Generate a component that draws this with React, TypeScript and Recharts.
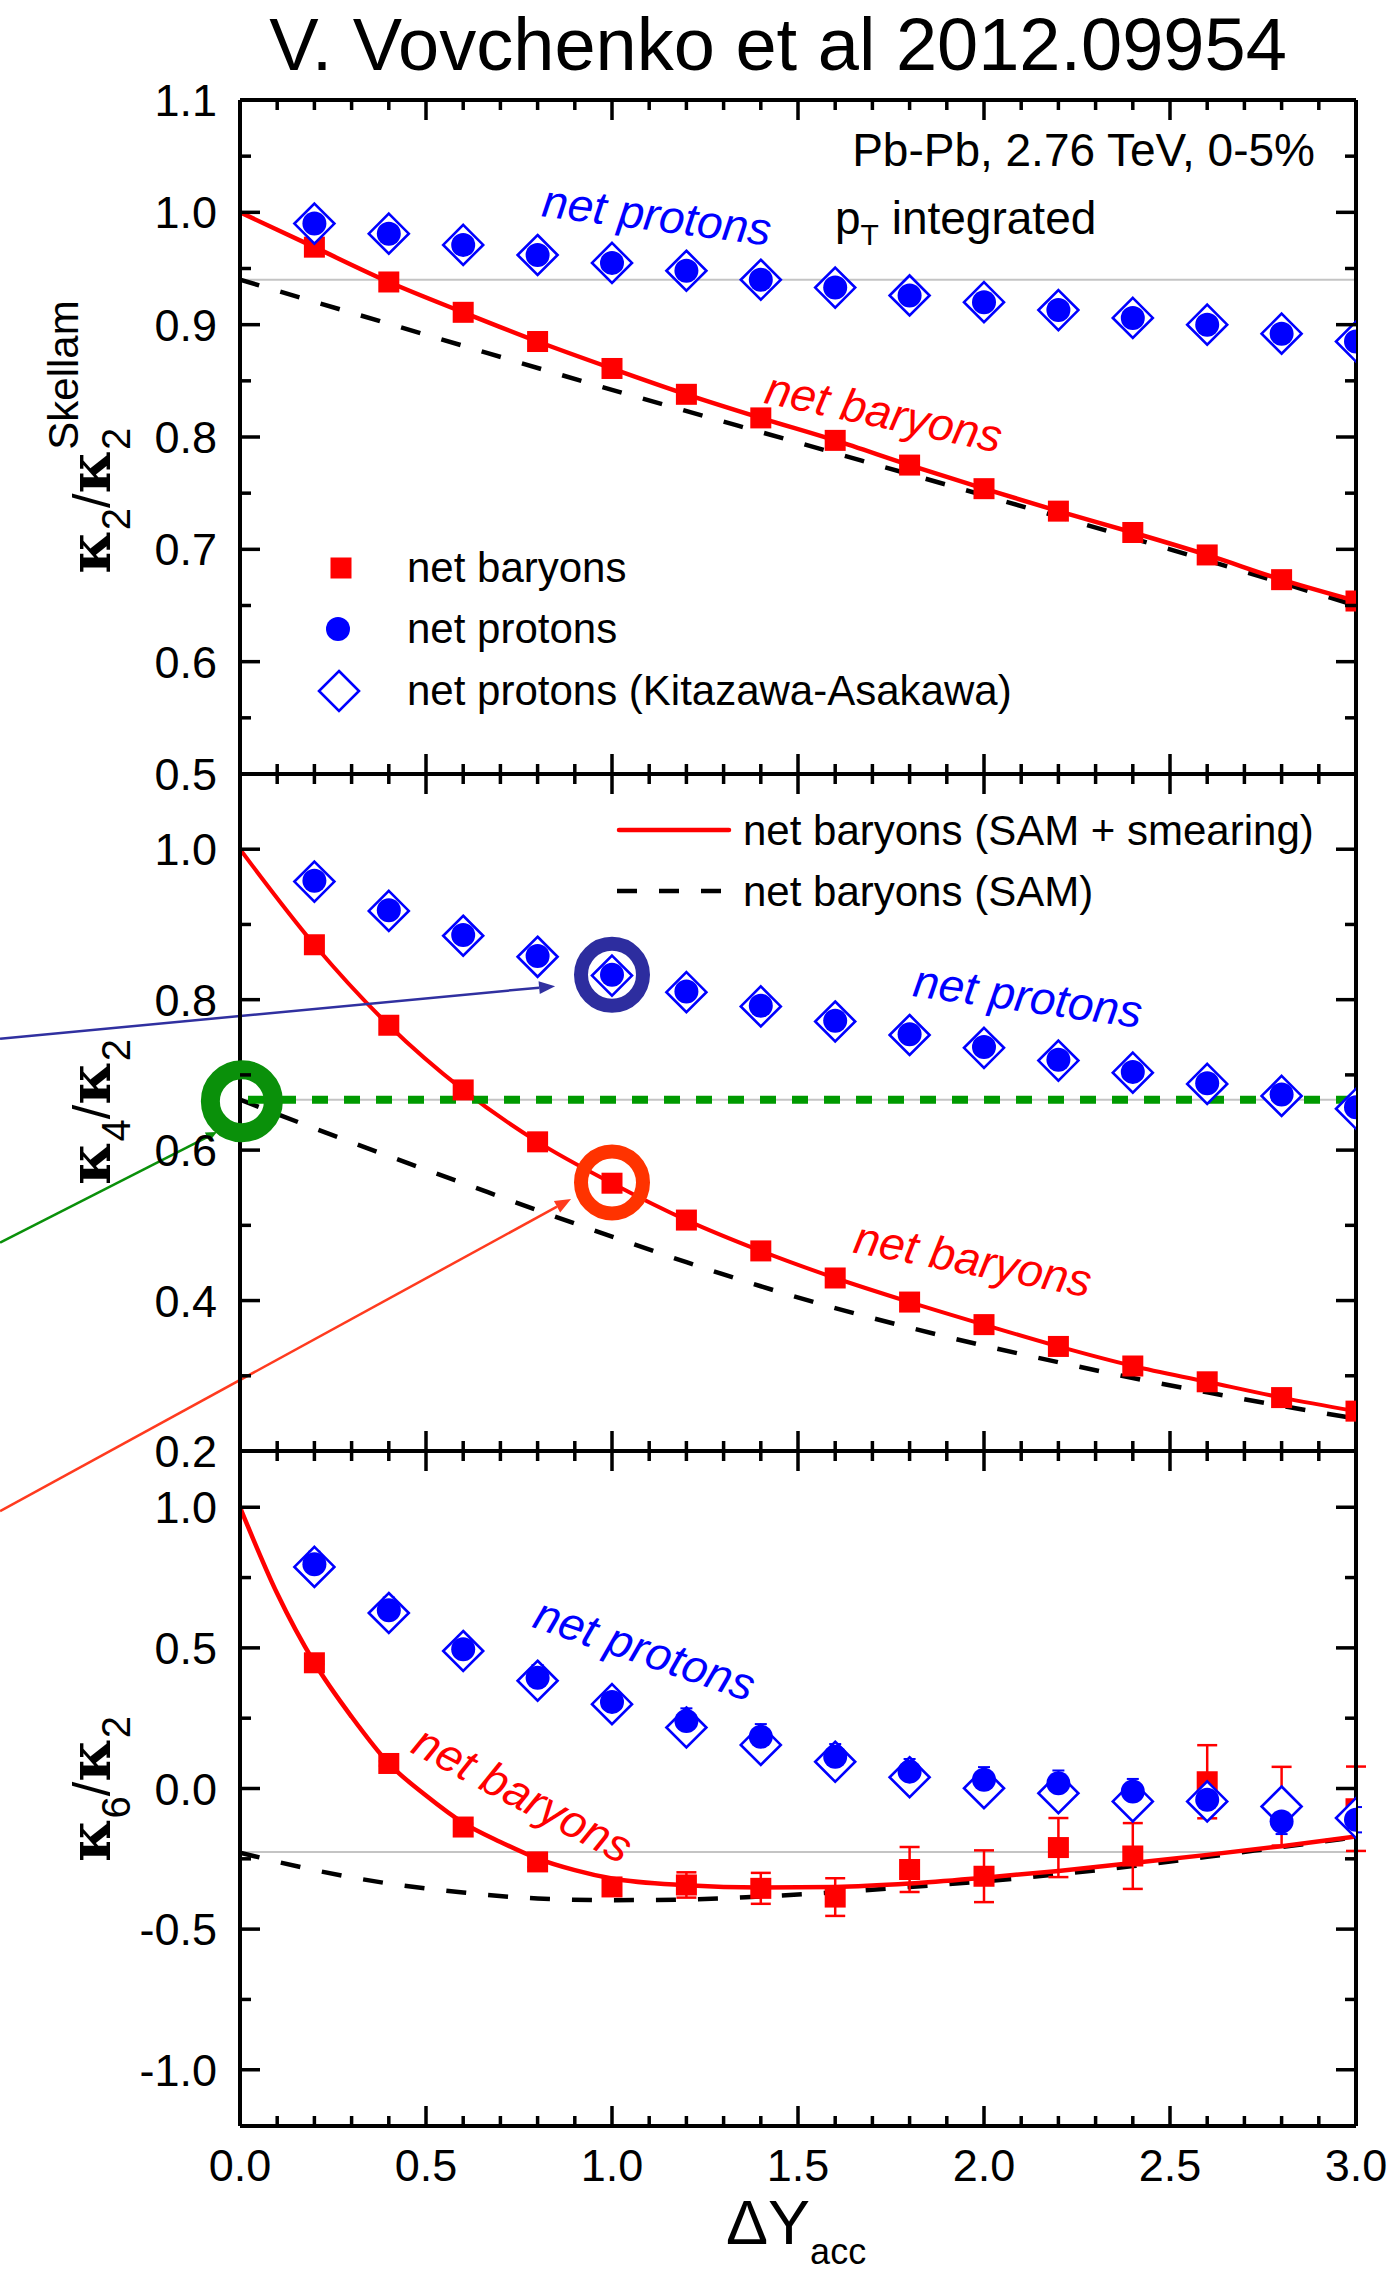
import React from "react";
import {
  ComposedChart,
  Line,
  Scatter,
  XAxis,
  YAxis,
  ReferenceLine,
  ReferenceDot,
  ErrorBar,
} from "recharts";

const W = 1393;
const H = 2273;
const LEFT = 240;
const RIGHT = 1356;
const AXIS_W = 30;
const SANS = "'Liberation Sans', Arial, Helvetica, sans-serif";
const SERIF = "'DejaVu Serif', 'Liberation Serif', serif";
const RED = "#ff0000";
const BLUE = "#0000ff";
const GREY = "#c4c4c4";

// acceptance windows of the data points
const DY_ACC = [0.2, 0.4, 0.6, 0.8, 1.0, 1.2, 1.4, 1.6, 1.8, 2.0, 2.2, 2.4, 2.6, 2.8, 3.0];
const CURVE_X = [0, 0.2, 0.4, 0.6, 0.8, 1.0, 1.2, 1.4, 1.6, 1.8, 2.0, 2.2, 2.4, 2.6, 2.8, 3.0];

// kappa2 / kappa2^Skellam
const K2_BARYON = [0.969, 0.938, 0.911, 0.885, 0.861, 0.838, 0.817, 0.797, 0.775, 0.754, 0.734, 0.715, 0.695, 0.673, 0.654];
const K2_PROTON = [0.99, 0.981, 0.971, 0.962, 0.955, 0.948, 0.94, 0.933, 0.926, 0.92, 0.913, 0.906, 0.9, 0.892, 0.885];
const K2_KA = [0.99, 0.981, 0.971, 0.962, 0.955, 0.948, 0.94, 0.933, 0.926, 0.92, 0.913, 0.906, 0.9, 0.892, 0.885];
const K2_SMEAR = [1.0, 0.969, 0.938, 0.911, 0.885, 0.861, 0.838, 0.817, 0.797, 0.775, 0.754, 0.734, 0.715, 0.695, 0.673, 0.654];
const K2_SAM_X = [0, 0.5, 1.0, 1.5, 2.0, 2.5, 3.0];
const K2_SAM = [0.94, 0.891, 0.842, 0.795, 0.748, 0.7, 0.65];
const K2_REF = 0.94;

// kappa4 / kappa2
const K4_BARYON = [0.873, 0.766, 0.68, 0.611, 0.556, 0.507, 0.466, 0.43, 0.398, 0.368, 0.339, 0.313, 0.292, 0.271, 0.253];
const K4_PROTON = [0.958, 0.919, 0.886, 0.858, 0.833, 0.811, 0.792, 0.772, 0.754, 0.737, 0.72, 0.704, 0.689, 0.674, 0.657];
const K4_KA = [0.957, 0.918, 0.885, 0.857, 0.832, 0.81, 0.791, 0.771, 0.753, 0.736, 0.719, 0.703, 0.688, 0.672, 0.655];
const K4_SMEAR = [1.0, 0.873, 0.766, 0.68, 0.611, 0.556, 0.507, 0.466, 0.43, 0.398, 0.368, 0.339, 0.313, 0.292, 0.271, 0.253];
const K4_SAM = [0.667, 0.629, 0.592, 0.556, 0.52, 0.485, 0.451, 0.419, 0.39, 0.364, 0.34, 0.318, 0.297, 0.278, 0.26, 0.243];
const K4_REF = 0.667;

// kappa6 / kappa2
const K6_BARYON = [0.447, 0.089, -0.137, -0.261, -0.35, -0.343, -0.355, -0.386, -0.288, -0.312, -0.21, -0.24, 0.024, -0.063, -0.072];
const K6_BARYON_ERR = [0.005, 0.008, 0.012, 0.018, 0.03, 0.045, 0.055, 0.067, 0.08, 0.092, 0.105, 0.117, 0.13, 0.14, 0.15];
const K6_PROTON = [0.797, 0.634, 0.495, 0.394, 0.308, 0.24, 0.184, 0.113, 0.06, 0.031, 0.019, -0.011, -0.04, -0.117, -0.111];
const K6_PROTON_ERR = [0.045, 0.045, 0.045, 0.045, 0.045, 0.045, 0.045, 0.045, 0.045, 0.045, 0.045, 0.045, 0.045, 0.045, 0.045];
const K6_KA = [0.788, 0.624, 0.489, 0.383, 0.3, 0.217, 0.155, 0.095, 0.04, 0.001, -0.017, -0.046, -0.046, -0.064, -0.105];
const K6_SMEAR_X = [0, 0.1, 0.2, 0.3, 0.4, 0.5, 0.6, 0.7, 0.8, 0.9, 1.0, 1.2, 1.4, 1.6, 1.8, 2.0, 2.2, 2.4, 2.6, 2.8, 3.0];
const K6_SMEAR = [1.0, 0.693, 0.447, 0.255, 0.089, -0.025, -0.122, -0.19, -0.249, -0.29, -0.32, -0.344, -0.352, -0.35, -0.338, -0.317, -0.293, -0.265, -0.236, -0.205, -0.171];
const K6_SAM = [-0.228, -0.29, -0.338, -0.37, -0.391, -0.397, -0.395, -0.384, -0.369, -0.35, -0.33, -0.305, -0.276, -0.243, -0.208, -0.173];
const K6_REF = -0.226;

// highlighted points and arrows in the kappa4 panel
const RING_BLUE = { x: 1.0, y: 0.833 };
const RING_RED = { x: 1.0, y: 0.557 };
const RING_GREEN = { x: 0.005, y: 0.665 };
const ARROW_BLUE = [{ x: -0.645, y: 0.748 }, { x: 0.847, y: 0.818 }];
const ARROW_GREEN = [{ x: -0.645, y: 0.477 }, { x: -0.062, y: 0.624 }];
const ARROW_RED = [{ x: -0.645, y: 0.12 }, { x: 0.89, y: 0.535 }];

// axis ticks
const X_TICKS = [0, 0.1, 0.2, 0.3, 0.4, 0.5, 0.6, 0.7, 0.8, 0.9, 1.0, 1.1, 1.2, 1.3, 1.4, 1.5, 1.6, 1.7, 1.8, 1.9, 2.0, 2.1, 2.2, 2.3, 2.4, 2.5, 2.6, 2.7, 2.8, 2.9, 3.0];
const X_MAJOR = [0, 0.5, 1.0, 1.5, 2.0, 2.5, 3.0];
const K2_Y_TICKS = [0.5, 0.55, 0.6, 0.65, 0.7, 0.75, 0.8, 0.85, 0.9, 0.95, 1.0, 1.05, 1.1];
const K2_Y_LABELS = [0.5, 0.6, 0.7, 0.8, 0.9, 1.0, 1.1];
const K4_Y_TICKS = [0.2, 0.3, 0.4, 0.5, 0.6, 0.7, 0.8, 0.9, 1.0];
const K4_Y_LABELS = [0.2, 0.4, 0.6, 0.8, 1.0];
const K6_Y_TICKS = [-1.0, -0.75, -0.5, -0.25, 0, 0.25, 0.5, 0.75, 1.0];
const K6_Y_LABELS = [-1.0, -0.5, 0, 0.5, 1.0];

const pts = (xs: number[], ys: number[], es?: number[]) =>
  xs.map((x, i) => ({ x, y: ys[i], e: es ? es[i] : 0 }));

const inList = (v: number, list: number[]) => list.some((m) => Math.abs(m - v) < 1e-6);

function makeXTick(side: "top" | "bottom", withLabels: boolean) {
  return (p: any) => {
    const v = p.payload.value;
    const major = inList(v, X_MAJOR);
    const len = major ? 20 : 10;
    const y2 = side === "bottom" ? p.y - len : p.y + len;
    return (
      <g>
        <line x1={p.x} y1={p.y} x2={p.x} y2={y2} stroke="#000" strokeWidth={3.5} />
        {withLabels && major ? (
          <text x={p.x} y={p.y + 55} textAnchor="middle" fontSize={45} fontFamily={SANS} fill="#000">
            {v.toFixed(1)}
          </text>
        ) : null}
      </g>
    );
  };
}

function makeYTick(side: "left" | "right", major: number[], withLabels: boolean) {
  return (p: any) => {
    const v = p.payload.value;
    const isMajor = inList(v, major);
    const len = isMajor ? 20 : 11;
    const x2 = side === "left" ? p.x + len : p.x - len;
    return (
      <g>
        <line x1={p.x} y1={p.y} x2={x2} y2={p.y} stroke="#000" strokeWidth={3.5} />
        {withLabels && isMajor ? (
          <text x={p.x - 23} y={p.y + 16} textAnchor="end" fontSize={45} fontFamily={SANS} fill="#000">
            {v.toFixed(1)}
          </text>
        ) : null}
      </g>
    );
  };
}

const squareShape = (p: any) => (
  <rect x={p.cx - 10.5} y={p.cy - 10.5} width={21} height={21} fill={RED} />
);
const circleShape = (p: any) => <circle cx={p.cx} cy={p.cy} r={12} fill={BLUE} />;
const diamondShape = (p: any) => (
  <polygon
    points={`${p.cx},${p.cy - 20} ${p.cx + 20},${p.cy} ${p.cx},${p.cy + 20} ${p.cx - 20},${p.cy}`}
    fill="#fff"
    stroke={BLUE}
    strokeWidth={2.6}
  />
);

const ringShape = (color: string, r: number, w: number) => (p: any) => (
  <circle cx={p.cx} cy={p.cy} r={r} fill="none" stroke={color} strokeWidth={w} />
);

const arrowShape = (color: string, head: number, half: number) => (p: any) => {
  const { x1, y1, x2, y2 } = p;
  const a = Math.atan2(y2 - y1, x2 - x1);
  const bx = x2 - head * Math.cos(a);
  const by = y2 - head * Math.sin(a);
  const nx = -Math.sin(a) * half;
  const ny = Math.cos(a) * half;
  return (
    <g>
      <line x1={x1} y1={y1} x2={bx} y2={by} stroke={color} strokeWidth={2.5} />
      <polygon points={`${x2},${y2} ${bx + nx},${by + ny} ${bx - nx},${by - ny}`} fill={color} />
    </g>
  );
};

const FRAME = { stroke: "#000", strokeWidth: 4 };

type PanelProps = {
  top: number;
  bottom: number;
  domain: [number, number];
  yTicks: number[];
  yLabels: number[];
  xLabels: boolean;
  children: React.ReactNode;
};

// every panel covers the whole page; the margins place its plot box
function Panel({ top, bottom, domain, yTicks, yLabels, xLabels, children }: PanelProps) {
  const margin = {
    top: top - AXIS_W,
    bottom: H - bottom - AXIS_W,
    left: LEFT - AXIS_W,
    right: W - RIGHT - AXIS_W,
  };
  return (
    <div style={{ position: "absolute", left: 0, top: 0 }}>
      <ComposedChart width={W} height={H} margin={margin}>
        <XAxis
          xAxisId="b"
          type="number"
          dataKey="x"
          domain={[0, 3]}
          ticks={X_TICKS}
          interval={0}
          orientation="bottom"
          height={AXIS_W}
          tickSize={0}
          tickMargin={0}
          tickLine={false}
          allowDataOverflow
          axisLine={FRAME}
          tick={makeXTick("bottom", xLabels)}
        />
        <XAxis
          xAxisId="t"
          type="number"
          dataKey="x"
          domain={[0, 3]}
          ticks={X_TICKS}
          interval={0}
          orientation="top"
          height={AXIS_W}
          tickSize={0}
          tickMargin={0}
          tickLine={false}
          allowDataOverflow
          axisLine={FRAME}
          tick={makeXTick("top", false)}
        />
        <YAxis
          yAxisId="l"
          type="number"
          domain={domain}
          ticks={yTicks}
          interval={0}
          orientation="left"
          width={AXIS_W}
          tickSize={0}
          tickMargin={0}
          tickLine={false}
          allowDataOverflow
          axisLine={FRAME}
          tick={makeYTick("left", yLabels, true)}
        />
        <YAxis
          yAxisId="r"
          type="number"
          domain={domain}
          ticks={yTicks}
          interval={0}
          orientation="right"
          width={AXIS_W}
          tickSize={0}
          tickMargin={0}
          tickLine={false}
          allowDataOverflow
          axisLine={FRAME}
          tick={makeYTick("right", yLabels, false)}
        />
        {children}
      </ComposedChart>
    </div>
  );
}

const ax = { xAxisId: "b", yAxisId: "l" } as const;

function KappaTitle({ x, y, top, bottom, sup }: { x: number; y: number; top: string; bottom: string; sup?: string }) {
  return (
    <text transform={`translate(${x} ${y}) rotate(-90)`} textAnchor="middle" fontFamily={SANS} fill="#000">
      <tspan fontFamily={SERIF} fontWeight="bold" fontSize={58}>κ</tspan>
      <tspan fontSize={40} dy={20}>{top}</tspan>
      <tspan fontSize={52} dy={-20}>/</tspan>
      <tspan fontFamily={SERIF} fontWeight="bold" fontSize={58}>κ</tspan>
      <tspan fontSize={40} dy={20}>{bottom}</tspan>
      {sup ? (
        <tspan fontSize={42} dx={-22} dy={-52}>{sup}</tspan>
      ) : null}
    </text>
  );
}

function Tag({ x, y, angle, color, children }: { x: number; y: number; angle: number; color: string; children: string }) {
  return (
    <text
      x={x}
      y={y}
      dy="0.35em"
      textAnchor="middle"
      fontSize={46}
      fontStyle="italic"
      fontFamily={SANS}
      fill={color}
      transform={`rotate(${angle} ${x} ${y})`}
    >
      {children}
    </text>
  );
}

export default function App() {
  return (
    <div style={{ position: "relative", width: W, height: H, background: "#fff" }}>
      <style>{"body{margin:0}"}</style>

      <Panel top={100} bottom={774} domain={[0.5, 1.1]} yTicks={K2_Y_TICKS} yLabels={K2_Y_LABELS} xLabels={false}>
        <ReferenceLine {...ax} y={K2_REF} stroke={GREY} strokeWidth={2} />
        <Line {...ax} data={pts(K2_SAM_X, K2_SAM)} dataKey="y" type="monotone" stroke="#000" strokeWidth={4.5} strokeDasharray="20 22" dot={false} isAnimationActive={false} />
        <Line {...ax} data={pts(CURVE_X, K2_SMEAR)} dataKey="y" type="monotone" stroke={RED} strokeWidth={4.5} dot={false} isAnimationActive={false} />
        <Scatter {...ax} data={pts(DY_ACC, K2_BARYON)} dataKey="y" shape={squareShape} isAnimationActive={false} />
        <Scatter {...ax} data={pts(DY_ACC, K2_KA)} dataKey="y" shape={diamondShape} isAnimationActive={false} />
        <Scatter {...ax} data={pts(DY_ACC, K2_PROTON)} dataKey="y" shape={circleShape} isAnimationActive={false} />
      </Panel>

      <Panel top={774} bottom={1451} domain={[0.2, 1.1]} yTicks={K4_Y_TICKS} yLabels={K4_Y_LABELS} xLabels={false}>
        <ReferenceLine {...ax} y={K4_REF} stroke={GREY} strokeWidth={2} />
        <Line {...ax} data={pts(CURVE_X, K4_SAM)} dataKey="y" type="monotone" stroke="#000" strokeWidth={4.5} strokeDasharray="20 22" dot={false} isAnimationActive={false} />
        <Line {...ax} data={pts(CURVE_X, K4_SMEAR)} dataKey="y" type="monotone" stroke={RED} strokeWidth={4} dot={false} isAnimationActive={false} />
        <ReferenceLine {...ax} y={K4_REF} stroke="#009a00" strokeWidth={8} strokeDasharray="16 16" strokeDashoffset={24} />
        <Scatter {...ax} data={pts(DY_ACC, K4_BARYON)} dataKey="y" shape={squareShape} isAnimationActive={false} />
        <Scatter {...ax} data={pts(DY_ACC, K4_KA)} dataKey="y" shape={diamondShape} isAnimationActive={false} />
        <Scatter {...ax} data={pts(DY_ACC, K4_PROTON)} dataKey="y" shape={circleShape} isAnimationActive={false} />
        <ReferenceDot {...ax} x={RING_BLUE.x} y={RING_BLUE.y} ifOverflow="visible" shape={ringShape("#2d2d9f", 31, 14)} />
        <ReferenceDot {...ax} x={RING_RED.x} y={RING_RED.y} ifOverflow="visible" shape={ringShape("#ff3300", 31, 14)} />
        <ReferenceDot {...ax} x={RING_GREEN.x} y={RING_GREEN.y} ifOverflow="visible" shape={ringShape("#0a900a", 31.5, 19)} />
        <ReferenceLine {...ax} segment={ARROW_BLUE} ifOverflow="visible" stroke="#3030a0" shape={arrowShape("#3030a0", 16, 6.5)} />
        <ReferenceLine {...ax} segment={ARROW_GREEN} ifOverflow="visible" stroke="#0a900a" shape={arrowShape("#0a900a", 11, 5)} />
        <ReferenceLine {...ax} segment={ARROW_RED} ifOverflow="visible" stroke="#ff3b1f" shape={arrowShape("#ff3b1f", 16, 6.5)} />
      </Panel>

      <Panel top={1451} bottom={2126} domain={[-1.2, 1.2]} yTicks={K6_Y_TICKS} yLabels={K6_Y_LABELS} xLabels={true}>
        <ReferenceLine {...ax} y={K6_REF} stroke={GREY} strokeWidth={2} />
        <Line {...ax} data={pts(CURVE_X, K6_SAM)} dataKey="y" type="monotone" stroke="#000" strokeWidth={4.5} strokeDasharray="20 22" dot={false} isAnimationActive={false} />
        <Line {...ax} data={pts(K6_SMEAR_X, K6_SMEAR)} dataKey="y" type="monotone" stroke={RED} strokeWidth={4.5} dot={false} isAnimationActive={false} />
        <Scatter {...ax} data={pts(DY_ACC, K6_BARYON, K6_BARYON_ERR)} dataKey="y" shape={squareShape} isAnimationActive={false}>
          <ErrorBar dataKey="e" direction="y" width={10} stroke={RED} strokeWidth={2.5} />
        </Scatter>
        <Scatter {...ax} data={pts(DY_ACC, K6_KA)} dataKey="y" shape={diamondShape} isAnimationActive={false} />
        <Scatter {...ax} data={pts(DY_ACC, K6_PROTON, K6_PROTON_ERR)} dataKey="y" shape={circleShape} isAnimationActive={false}>
          <ErrorBar dataKey="e" direction="y" width={6} stroke={BLUE} strokeWidth={2} />
        </Scatter>
      </Panel>

      <svg
        width={W}
        height={H}
        style={{ position: "absolute", left: 0, top: 0, pointerEvents: "none" }}
        fontFamily={SANS}
      >
        <text x={778} y={70} textAnchor="middle" fontSize={74} fill="#000">
          V. Vovchenko et al 2012.09954
        </text>

        <KappaTitle x={110} y={437} top="2" bottom="2" sup="Skellam" />
        <KappaTitle x={110} y={1112} top="4" bottom="2" />
        <KappaTitle x={110} y={1789} top="6" bottom="2" />

        <text x={726} y={2244} fontSize={63} fill="#000">
          ΔY<tspan fontSize={36} dy={20}>acc</tspan>
        </text>

        <text x={1315} y={166} textAnchor="end" fontSize={46} fill="#000">
          Pb-Pb, 2.76 TeV, 0-5%
        </text>
        <text x={835} y={234} fontSize={46} fill="#000">
          p<tspan fontSize={30} dy={11}>T</tspan>
          <tspan dy={-11}> integrated</tspan>
        </text>

        <rect x={330.5} y={557.5} width={21} height={21} fill={RED} />
        <text x={407} y={582} fontSize={42} fill="#000">net baryons</text>
        <circle cx={338} cy={629} r={12} fill={BLUE} />
        <text x={407} y={643} fontSize={42} fill="#000">net protons</text>
        <polygon points="339,671 359,691 339,711 319,691" fill="#fff" stroke={BLUE} strokeWidth={2.6} />
        <text x={407} y={705} fontSize={42} fill="#000">net protons (Kitazawa-Asakawa)</text>

        <line x1={619} y1={830} x2={729} y2={830} stroke={RED} strokeWidth={4.5} strokeLinecap="round" />
        <text x={743} y={845} fontSize={42} fill="#000">net baryons (SAM + smearing)</text>
        <line x1={617} y1={891} x2={729} y2={891} stroke="#000" strokeWidth={4.5} strokeDasharray="20 22" />
        <text x={743} y={906} fontSize={42} fill="#000">net baryons (SAM)</text>

        <Tag x={657} y={215} angle={7.3} color={BLUE}>net protons</Tag>
        <Tag x={884} y={412} angle={12} color={RED}>net baryons</Tag>
        <Tag x={1028} y={996} angle={8} color={BLUE}>net protons</Tag>
        <Tag x={973} y={1259} angle={10.8} color={RED}>net baryons</Tag>
        <Tag x={645} y={1649} angle={19} color={BLUE}>net protons</Tag>
        <Tag x={523} y={1794} angle={28} color={RED}>net baryons</Tag>
      </svg>
    </div>
  );
}
